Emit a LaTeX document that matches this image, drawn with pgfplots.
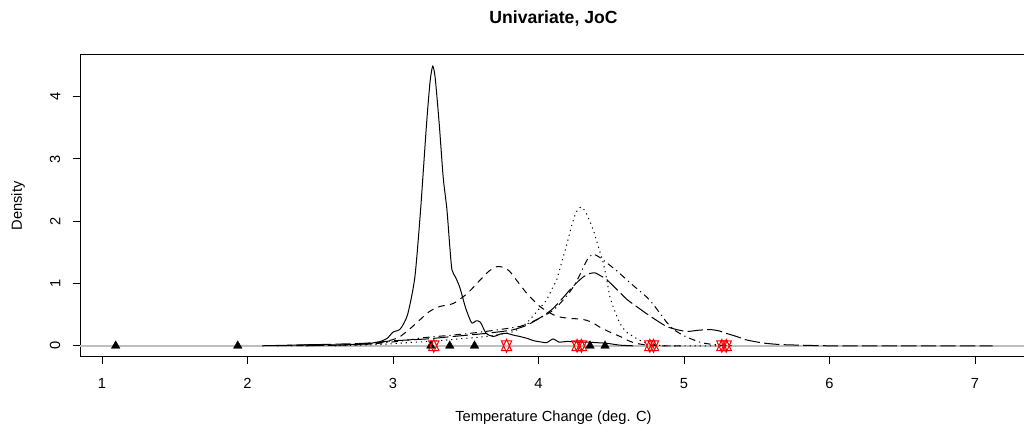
\documentclass[border=0pt]{standalone}
\usepackage{pgfplots}
\pgfplotsset{compat=1.18}
\usepackage{fontspec}
\setmainfont{Liberation Sans}
\pgfdeclareplotmark{dstar}{%
  \pgfpathmoveto{\pgfqpoint{0pt}{\pgfplotmarksize}}%
  \pgfpathlineto{\pgfqpoint{0.8\pgfplotmarksize}{-0.75\pgfplotmarksize}}%
  \pgfpathlineto{\pgfqpoint{-0.8\pgfplotmarksize}{-0.75\pgfplotmarksize}}%
  \pgfpathclose
  \pgfpathmoveto{\pgfqpoint{0pt}{-\pgfplotmarksize}}%
  \pgfpathlineto{\pgfqpoint{0.8\pgfplotmarksize}{0.75\pgfplotmarksize}}%
  \pgfpathlineto{\pgfqpoint{-0.8\pgfplotmarksize}{0.75\pgfplotmarksize}}%
  \pgfpathclose
  \pgfusepathqstroke
}
\definecolor{rgray}{RGB}{190,190,190}

\pgfplotstableread{
x y
2.10 0.00
2.30 0.01
2.50 0.02
2.60 0.01
2.70 0.02
2.80 0.03
2.90 0.06
2.96 0.12
3.00 0.22
3.05 0.27
3.10 0.50
3.15 1.10
3.19 2.20
3.23 3.55
3.255 4.25
3.273 4.49
3.29 4.30
3.318 3.55
3.345 2.70
3.37 2.20
3.39 1.60
3.405 1.22
3.43 1.10
3.46 0.93
3.50 0.60
3.54 0.37
3.57 0.40
3.60 0.38
3.64 0.20
3.69 0.15
3.74 0.19
3.78 0.20
3.83 0.17
3.87 0.15
3.92 0.12
3.97 0.08
4.02 0.06
4.056 0.05
4.10 0.11
4.14 0.06
4.20 0.07
4.26 0.06
4.33 0.06
4.40 0.05
4.47 0.04
4.56 0.01
4.65 0.00
}\solid

\pgfplotstableread{
x y
2.40 0.00
2.60 0.01
2.80 0.02
2.91 0.05
3.00 0.10
3.05 0.15
3.12 0.28
3.186 0.42
3.25 0.55
3.32 0.63
3.415 0.68
3.51 0.84
3.60 1.06
3.66 1.20
3.713 1.27
3.76 1.26
3.80 1.20
3.86 1.02
3.92 0.84
4.01 0.63
4.10 0.50
4.15 0.46
4.216 0.44
4.28 0.43
4.33 0.41
4.38 0.36
4.42 0.30
4.49 0.22
4.56 0.15
4.62 0.08
4.67 0.04
4.75 0.01
4.85 0.00
5.00 0.00
}\dashed

\pgfplotstableread{
x y
2.60 0.00
2.90 0.02
3.10 0.05
3.30 0.08
3.50 0.12
3.64 0.15
3.75 0.19
3.83 0.23
3.90 0.33
3.94 0.42
4.00 0.58
4.056 0.74
4.10 0.95
4.125 1.06
4.16 1.35
4.19 1.59
4.23 1.95
4.26 2.15
4.295 2.23
4.33 2.12
4.376 1.86
4.41 1.60
4.445 1.33
4.47 1.05
4.49 0.79
4.52 0.58
4.56 0.36
4.60 0.23
4.65 0.15
4.72 0.06
4.79 0.02
4.90 0.00
5.30 0.00
}\dotted

\pgfplotstableread{
x y
2.30 0.00
2.60 0.01
2.90 0.04
3.10 0.09
3.21 0.13
3.40 0.17
3.53 0.20
3.70 0.25
3.87 0.31
3.95 0.38
4.03 0.47
4.10 0.57
4.148 0.68
4.20 0.82
4.24 0.95
4.28 1.12
4.31 1.27
4.34 1.40
4.376 1.47
4.42 1.42
4.47 1.33
4.54 1.20
4.606 1.06
4.67 0.93
4.74 0.79
4.79 0.66
4.835 0.52
4.88 0.38
4.93 0.26
5.00 0.16
5.06 0.10
5.12 0.05
5.17 0.03
5.25 0.01
5.35 0.00
}\dotdash

\pgfplotstableread{
x y
2.20 0.00
2.50 0.02
2.80 0.04
3.00 0.08
3.23 0.11
3.415 0.15
3.60 0.19
3.75 0.23
3.83 0.26
3.92 0.33
3.99 0.42
4.05 0.51
4.10 0.60
4.16 0.75
4.216 0.90
4.27 1.03
4.31 1.11
4.35 1.16
4.39 1.17
4.43 1.12
4.47 1.06
4.54 0.90
4.61 0.74
4.68 0.62
4.74 0.52
4.81 0.41
4.88 0.31
4.95 0.26
5.02 0.23
5.10 0.25
5.18 0.26
5.24 0.24
5.29 0.20
5.36 0.15
5.42 0.10
5.48 0.07
5.56 0.04
5.66 0.02
5.80 0.01
6.00 0.00
6.50 0.00
7.12 0.00
}\longdash

\pgfplotstableread{
x y
1.094 0
1.933 0
3.26 0
3.39 0
3.56 0
4.354 0
4.457 0
}\tri

\pgfplotstableread{
x y
3.28 0
3.78 0
4.265 0
4.295 0
4.765 0
4.79 0
5.26 0
5.29 0
}\stars

\begin{document}
\begin{tikzpicture}
\begin{axis}[
  scale only axis, width=710.25pt, height=226.5pt,
  xmin=0.8488, xmax=7.357, ymin=-0.18, ymax=4.67,
  xtick={1,2,3,4,5,6,7}, ytick={0,1,2,3,4},
  tick pos=left, tick align=outside, major tick length=5.25pt,
  tick style={black, line width=0.75pt},
  axis line style={line width=0.75pt},
  ticklabel style={font=\fontsize{11}{13}\selectfont},
  /pgf/number format/assume math mode=true,
  xticklabel style={anchor=north, yshift=-7pt},
  yticklabel style={xshift=-6pt, rotate=90, anchor=south},
  every axis plot/.append style={line width=0.75pt},
]
\addplot[rgray, line width=1.2pt, forget plot] coordinates {(0.5,0) (7.6,0)};
\addplot[black, smooth, tension=0.4] table {\solid};
\addplot[black, smooth, tension=0.4, dash pattern=on 5pt off 4pt] table {\dashed};
\addplot[black, smooth, tension=0.4, dash pattern=on 0.9pt off 2.9pt] table {\dotted};
\addplot[black, smooth, tension=0.4, dash pattern=on 0.9pt off 3pt on 5pt off 3pt] table {\dotdash};
\addplot[black, smooth, tension=0.4, dash pattern=on 11.5pt off 3.2pt] table {\longdash};
\addplot[only marks, mark=triangle*, mark size=3.7pt, mark options={fill=black, draw=black, line width=0.3pt}] table {\tri};
\addplot[only marks, mark=dstar, mark size=4.8pt, mark options={draw=red, line width=0.75pt}] table {\stars};
\end{axis}
\node[font=\fontsize{13.2}{15}\selectfont\bfseries] at (355.1pt,254.25pt) {Univariate, JoC};
\node[font=\fontsize{11}{13}\selectfont] at (355.1pt,-45.75pt) {Temperature Change (deg. C)};
\node[font=\fontsize{11}{13}\selectfont, rotate=90] at (-46.5pt,113.25pt) {Density};
\pgfresetboundingbox
\useasboundingbox (-60pt,-58.5pt) rectangle (708pt,267.75pt);
\end{tikzpicture}
\end{document}
